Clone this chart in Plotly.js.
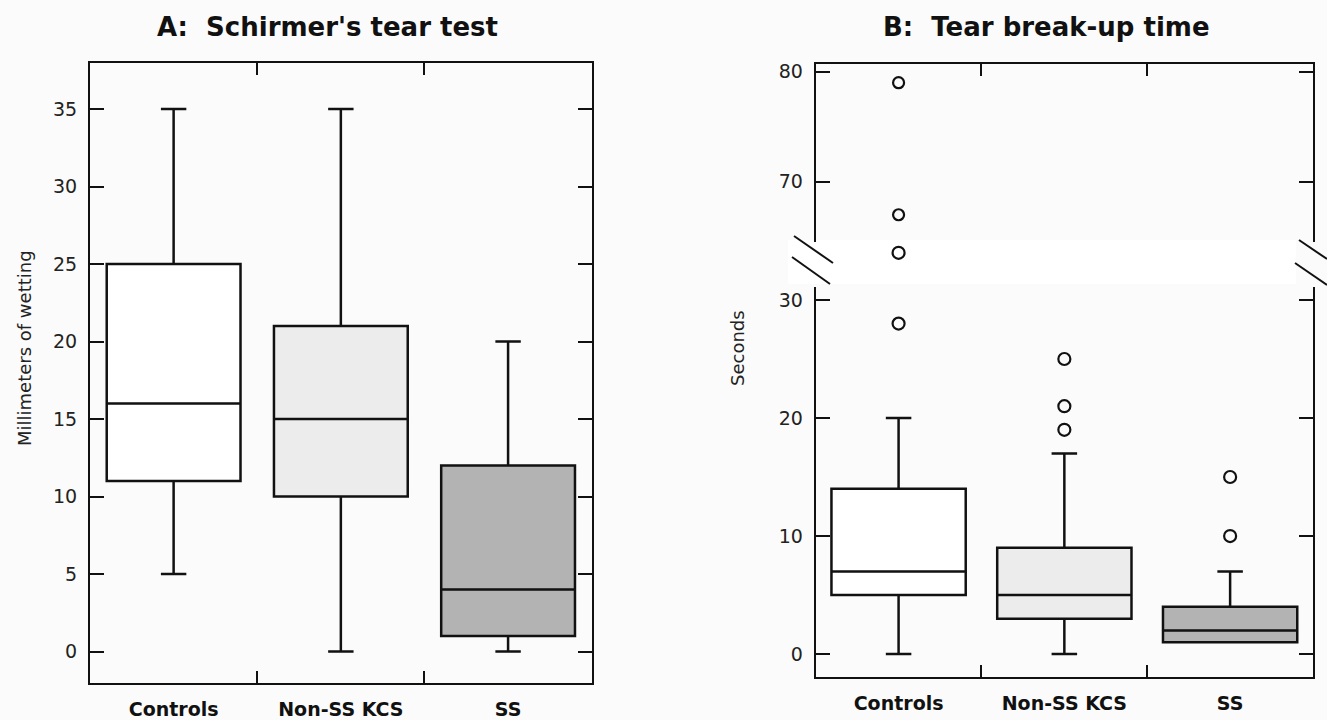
<!DOCTYPE html>
<html>
<head>
<meta charset="utf-8">
<script src="https://cdn.plot.ly/plotly-3.0.1.min.js"></script>
<style>html,body{margin:0;padding:0;background:#fbfbfb;}#chart{width:1327px;height:720px;}</style>
</head>
<body>
<div id="chart"></div>
<script>
// ---- data ----
const categories = ['Controls', 'Non-SS KCS', 'SS'];

// Panel A: Schirmer's tear test (mm of wetting)
const schirmerLower  = [5, 0, 0];
const schirmerQ1     = [11, 10, 1];
const schirmerMedian = [16, 15, 4];
const schirmerQ3     = [25, 21, 12];
const schirmerUpper  = [35, 35, 20];

// Panel B: Tear break-up time (seconds)
const tbutLower  = [0, 0, 1];
const tbutQ1     = [5, 3, 1];
const tbutMedian = [7, 5, 2];
const tbutQ3     = [14, 9, 4];
const tbutUpper  = [20, 17, 7];

// outliers below the axis break
const tbutOutlierCat = ['Controls', 'Non-SS KCS', 'Non-SS KCS', 'Non-SS KCS', 'SS', 'SS'];
const tbutOutlierVal = [28, 19, 21, 25, 10, 15];
// outlier drawn inside the break band
const tbutBreakCat = ['Controls'];
const tbutBreakVal = [34];
// outliers above the axis break
const tbutHighCat = ['Controls', 'Controls'];
const tbutHighVal = [67, 79];

const yTicksA = [0, 5, 10, 15, 20, 25, 30, 35];
const yTicksBLow = [0, 10, 20, 30];
const yTicksBHigh = [70, 80];

// ---- styles ----
const boxFill = ['#ffffff', '#ececec', '#b3b3b3'];
const W = 1327, H = 720;
const px = v => v / W, py = v => 1 - v / H;
const lineC = '#111';

const traces = [];
categories.forEach((c, i) => {
  traces.push({
    type: 'box', x: [c], q1: [schirmerQ1[i]], median: [schirmerMedian[i]], q3: [schirmerQ3[i]],
    lowerfence: [schirmerLower[i]], upperfence: [schirmerUpper[i]],
    xaxis: 'x', yaxis: 'y', fillcolor: boxFill[i], line: {color: lineC, width: 2.5},
    whiskerwidth: 0.19, width: 0.8, boxpoints: false, showlegend: false, hoverinfo: 'skip'
  });
  traces.push({
    type: 'box', x: [c], q1: [tbutQ1[i]], median: [tbutMedian[i]], q3: [tbutQ3[i]],
    lowerfence: [tbutLower[i]], upperfence: [tbutUpper[i]],
    xaxis: 'x2', yaxis: 'y2', fillcolor: boxFill[i], line: {color: lineC, width: 2.5},
    whiskerwidth: 0.19, width: 0.81, boxpoints: false, showlegend: false, hoverinfo: 'skip'
  });
});
const outMarker = {symbol: 'circle-open', size: 12, color: lineC, line: {width: 2.2, color: lineC}};
traces.push({type: 'scatter', mode: 'markers', x: tbutOutlierCat, y: tbutOutlierVal,
  xaxis: 'x2', yaxis: 'y2', marker: outMarker, showlegend: false, hoverinfo: 'skip'});
traces.push({type: 'scatter', mode: 'markers', x: tbutBreakCat, y: tbutBreakVal,
  xaxis: 'x4', yaxis: 'y4', marker: outMarker, showlegend: false, hoverinfo: 'skip'});
traces.push({type: 'scatter', mode: 'markers', x: tbutHighCat, y: tbutHighVal,
  xaxis: 'x3', yaxis: 'y3', marker: Object.assign({}, outMarker, {size: 11}), showlegend: false, hoverinfo: 'skip'});

const tickFont = {family: 'DejaVu Sans', size: 19, color: '#222'};
const catFont = {family: 'DejaVu Sans', size: 19, color: '#111', weight: 'bold'};

const catAxis = (extra) => Object.assign({
  type: 'category', categoryorder: 'array', categoryarray: categories, range: [-0.5, 2.5],
  tickson: 'boundaries', ticks: 'inside', ticklen: 12, tickwidth: 2, tickcolor: lineC,
  showline: true, linecolor: lineC, linewidth: 2, showgrid: false, zeroline: false,
  tickfont: catFont, ticklabelstandoff: 8, fixedrange: true
}, extra);
const valAxis = (extra) => Object.assign({
  ticks: 'inside', ticklen: 14, tickwidth: 2, tickcolor: lineC,
  showline: true, linecolor: lineC, linewidth: 2, showgrid: false, zeroline: false,
  mirror: 'ticks', tickfont: tickFont, ticklabelstandoff: 7, fixedrange: true
}, extra);

const layout = {
  width: W, height: H, margin: {l: 0, r: 0, t: 0, b: 0},
  paper_bgcolor: '#fbfbfb', plot_bgcolor: '#fbfbfb', showlegend: false,
  xaxis: catAxis({domain: [px(90), px(591.7)], anchor: 'y', mirror: 'ticks'}),
  yaxis: valAxis({domain: [py(683), py(63.3)], anchor: 'x', range: [-2.03, 37.95], tickvals: yTicksA}),
  xaxis2: catAxis({domain: [px(815.7), px(1313)], anchor: 'y2'}),
  yaxis2: valAxis({domain: [py(677.3), py(287)], anchor: 'x2', range: [-1.97, 31.1], tickvals: yTicksBLow}),
  xaxis3: catAxis({domain: [px(815.7), px(1313)], anchor: 'y3', side: 'top', showticklabels: false}),
  yaxis3: valAxis({domain: [py(241.7), py(64)], anchor: 'x3', range: [64.55, 80.7], tickvals: yTicksBHigh}),
  // invisible axes for the break band (continuation of the lower scale)
  xaxis4: {domain: [px(815.7), px(1313)], anchor: 'y4', type: 'category', categoryorder: 'array',
    categoryarray: categories, range: [-0.5, 2.5], visible: false, fixedrange: true},
  yaxis4: {domain: [py(287), py(241.7)], anchor: 'x4', range: [31.1, 34.94], visible: false, fixedrange: true},
  annotations: [
    {text: 'A:\u00a0 Schirmer\'s tear test', xref: 'paper', yref: 'paper', x: px(327.5), y: py(27),
     xanchor: 'center', yanchor: 'middle', showarrow: false,
     font: {family: 'DejaVu Sans', size: 26, color: '#111', weight: 'bold'}},
    {text: 'B:\u00a0 Tear break-up time', xref: 'paper', yref: 'paper', x: px(1046.7), y: py(27),
     xanchor: 'center', yanchor: 'middle', showarrow: false,
     font: {family: 'DejaVu Sans', size: 26, color: '#111', weight: 'bold'}},
    {text: 'Millimeters of wetting', xref: 'paper', yref: 'paper', x: px(24), y: py(348), textangle: -90,
     xanchor: 'center', yanchor: 'middle', showarrow: false,
     font: {family: 'DejaVu Sans', size: 18, color: '#222'}},
    {text: 'Seconds', xref: 'paper', yref: 'paper', x: px(737), y: py(348), textangle: -90,
     xanchor: 'center', yanchor: 'middle', showarrow: false,
     font: {family: 'DejaVu Sans', size: 18, color: '#222'}}
  ],
  shapes: [
    {type: 'rect', xref: 'paper', yref: 'paper', x0: px(788), x1: px(1296), y0: py(284), y1: py(240),
     fillcolor: '#ffffff', line: {width: 0}, layer: 'below'},
    {type: 'line', xref: 'paper', yref: 'paper', x0: px(794), y0: py(236), x1: px(833), y1: py(263), line: {color: lineC, width: 2}},
    {type: 'line', xref: 'paper', yref: 'paper', x0: px(792), y0: py(257), x1: px(830), y1: py(284), line: {color: lineC, width: 2}},
    {type: 'line', xref: 'paper', yref: 'paper', x0: px(1299), y0: py(240), x1: px(1327), y1: py(259), line: {color: lineC, width: 2}},
    {type: 'line', xref: 'paper', yref: 'paper', x0: px(1295), y0: py(263), x1: px(1327), y1: py(285), line: {color: lineC, width: 2}}
  ]
};

Plotly.newPlot('chart', traces, layout, {displayModeBar: false, staticPlot: true});
</script>
</body>
</html>
